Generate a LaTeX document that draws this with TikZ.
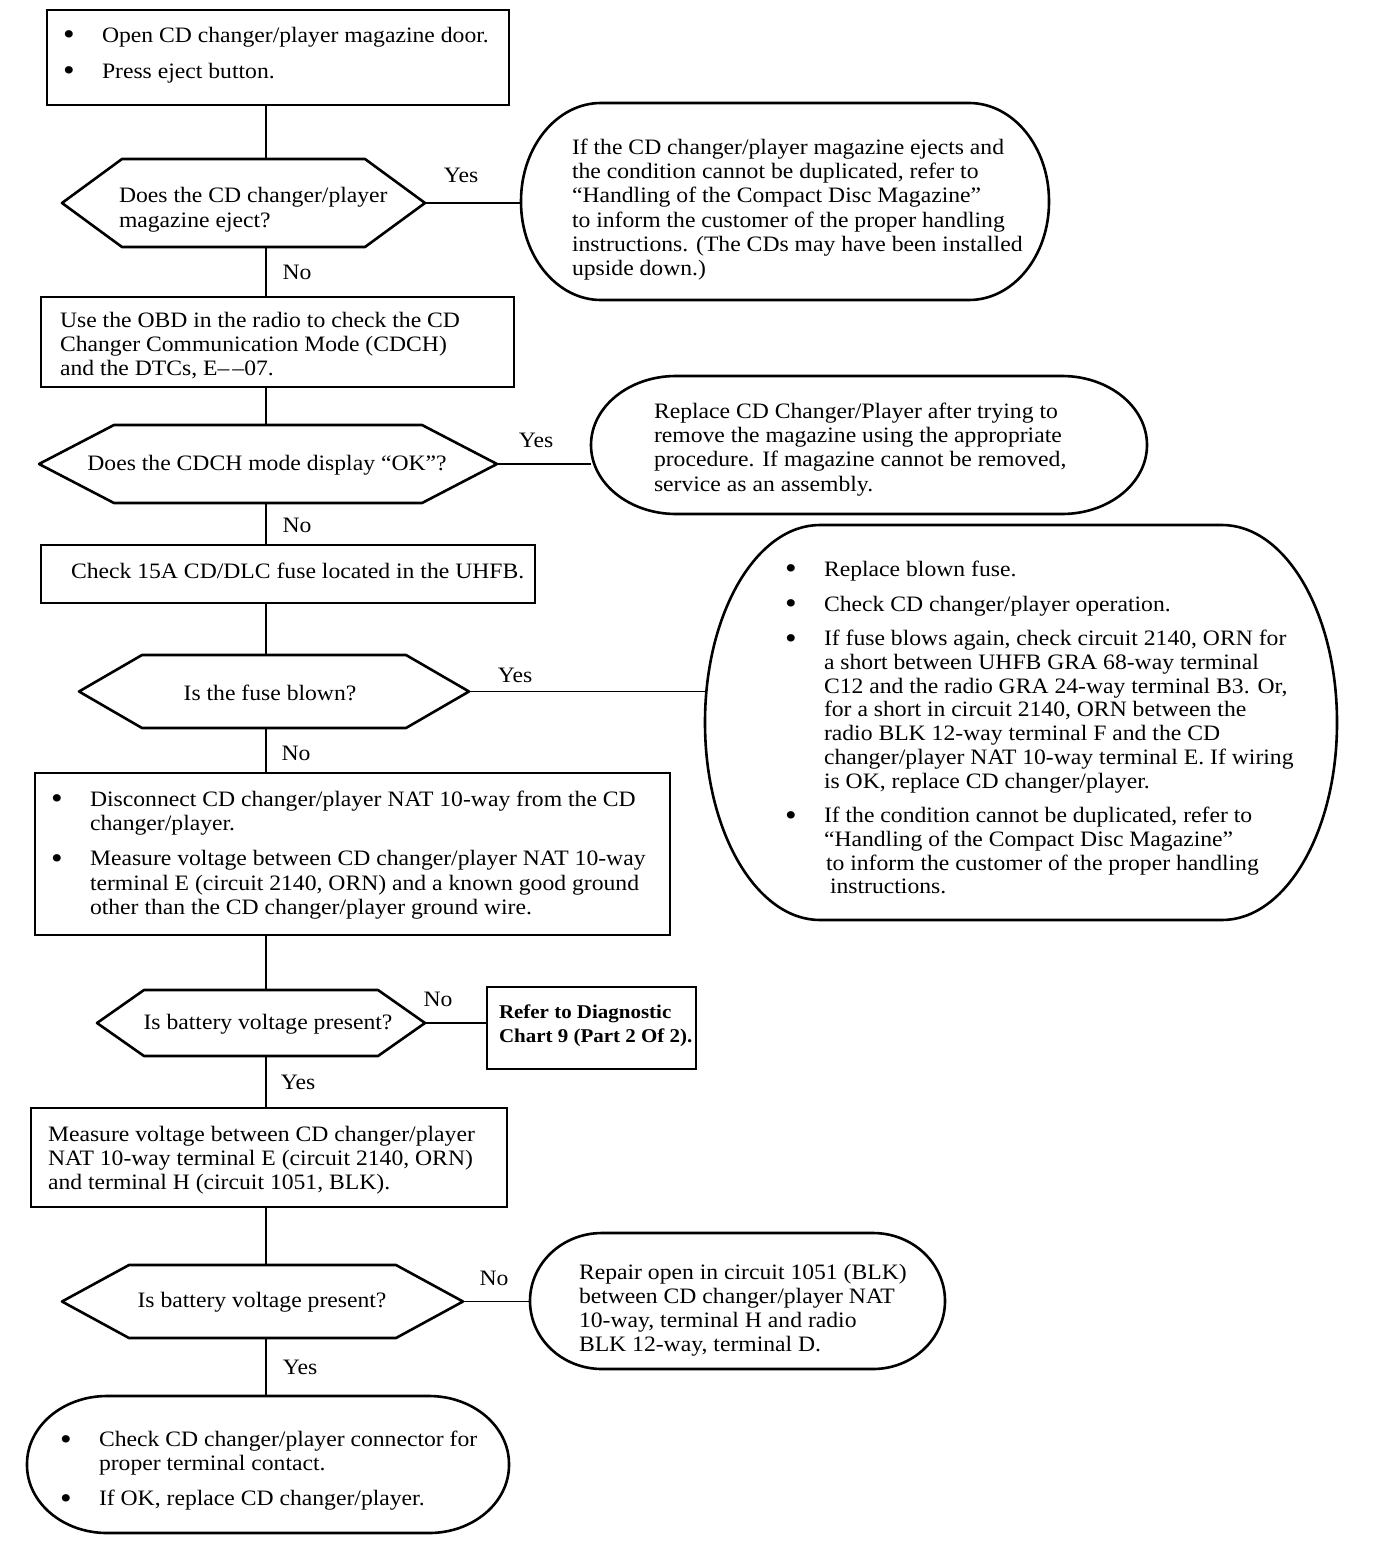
\documentclass[tikz,border=0pt]{standalone}
\usepackage{fontspec}
\usepackage{graphicx}
\setmainfont{Liberation Serif}[FakeStretch=1.075]
\usetikzlibrary{calc}
\newcommand\bul[1][39pt]{\makebox[#1][l]{\raisebox{-2.5pt}{\scalebox{1.4}{\textbullet}}}}
\newcommand\ind[1][39pt]{\hspace*{#1}}
% pill outline with elliptical corners: name, rx, ry
\newcommand\pillshape[3]{%
  \draw[shapeline] let \p1=(#1.north west), \p2=(#1.south east) in
    (\x1+#2pt,\y1) -- (\x2-#2pt,\y1)
    .. controls (\x2-0.4477*#2pt,\y1) and (\x2,\y1-0.4477*#3pt) .. (\x2,\y1-#3pt)
    -- (\x2,\y2+#3pt)
    .. controls (\x2,\y2+0.4477*#3pt) and (\x2-0.4477*#2pt,\y2) .. (\x2-#2pt,\y2)
    -- (\x1+#2pt,\y2)
    .. controls (\x1+0.4477*#2pt,\y2) and (\x1,\y2+0.4477*#3pt) .. (\x1,\y2+#3pt)
    -- (\x1,\y1-#3pt)
    .. controls (\x1,\y1-0.4477*#3pt) and (\x1+0.4477*#2pt,\y1) .. (\x1+#2pt,\y1)
    -- cycle;}
% hexagon outline: name, inset
\newcommand\hexshape[2]{%
  \draw[shapeline] (#1.west) -- ([xshift=#2pt]#1.north west) -- ([xshift=-#2pt]#1.north east)
    -- (#1.east) -- ([xshift=-#2pt]#1.south east) -- ([xshift=#2pt]#1.south west) -- cycle;}
\begin{document}
\begin{tikzpicture}[x=1pt,y=-1pt,
  frame/.style={draw=none,inner sep=0pt,outer sep=0pt},
  box/.style={draw,line width=2.6pt,inner sep=0pt,outer sep=0pt},
  shapeline/.style={line width=2.6pt,line join=round},
  conn/.style={line width=1.7pt},
  txt/.style={inner sep=0pt,outer sep=0pt,align=left,anchor=north west,font=\fontsize{22}{24.2}\selectfont},
  ctxt/.style={inner sep=0pt,outer sep=0pt,font=\fontsize{22}{24.2}\selectfont},
  lbl/.style={inner sep=0pt,outer sep=0pt,font=\fontsize{22}{24}\selectfont}]
\useasboundingbox[fill=white] (0,0) rectangle (1392,1554);
\coordinate (trunk) at (266,0);

% shapes
\node[box,minimum width=462pt,minimum height=95pt] (box1) at (278,57.5) {};
\node[frame,minimum width=363pt,minimum height=88pt] (hex1) at (243.5,203) {};
\node[frame,minimum width=528pt,minimum height=197pt] (pill1) at (785,201.5) {};
\node[box,minimum width=473pt,minimum height=90pt] (box2) at (277.5,342) {};
\node[frame,minimum width=458pt,minimum height=78pt] (hex2) at (268,464) {};
\node[frame,minimum width=556pt,minimum height=138pt] (pill2) at (869,445) {};
\node[box,minimum width=494pt,minimum height=58pt] (box3) at (288,574) {};
\node[frame,minimum width=390pt,minimum height=73pt] (hex3) at (274,691.5) {};
\node[frame,minimum width=632pt,minimum height=395pt] (pill3) at (1021,722.5) {};
\node[box,minimum width=635pt,minimum height=162pt] (box4) at (352.5,854) {};
\node[frame,minimum width=328pt,minimum height=66pt] (hex4) at (261,1023) {};
\node[box,minimum width=209pt,minimum height=82pt] (box5) at (591.5,1028) {};
\node[box,minimum width=476pt,minimum height=99pt] (box6) at (269,1157.5) {};
\node[frame,minimum width=401pt,minimum height=73pt] (hex5) at (262.5,1301.5) {};
\node[frame,minimum width=415pt,minimum height=136pt] (pill4) at (737.5,1301) {};
\node[frame,minimum width=482pt,minimum height=137pt] (pill5) at (268,1464.5) {};

\hexshape{hex1}{60}
\hexshape{hex2}{75}
\hexshape{hex3}{63}
\hexshape{hex4}{47}
\hexshape{hex5}{67}
\pillshape{pill1}{80}{98}
\pillshape{pill2}{85}{69}
\pillshape{pill3}{115}{197}
\pillshape{pill4}{72}{68}
\pillshape{pill5}{80}{68}

% texts
\node[txt] (t1) at (63,27) {\bul Open CD changer/player magazine door.\\[12pt]\bul Press eject button.};
\node[txt,font=\fontsize{22}{25}\selectfont] (th1) at (119,187) {Does the CD changer/player\\magazine eject?};
\node[txt] (tp1) at (572,139) {If the CD changer/player magazine ejects and\\the condition cannot be duplicated, refer to\\“Handling of the Compact Disc Magazine”\\to inform the customer of the proper handling\\instructions. (The CDs may have been installed\\upside down.)};
\node[txt] (t2) at (60,312) {Use the OBD in the radio to check the CD\\Changer Communication Mode (CDCH)\\and the DTCs, E–\hspace{3pt}–07.};
\node[ctxt] (th2) at (267,465) {Does the CDCH mode display “OK”?};
\node[txt] (tp2) at (654,403) {Replace CD Changer/Player after trying to\\remove the magazine using the appropriate\\procedure. If magazine cannot be removed,\\service as an assembly.};
\node[txt] (t3) at (71,563) {Check 15A CD/DLC fuse located in the UHFB.};
\node[ctxt] (th3) at (270,693) {Is the fuse blown?};
\node[txt,font=\fontsize{22}{23.7}\selectfont] (tp3) at (785,561) {\bul Replace blown fuse.\\[11pt]
\bul Check CD changer/player operation.\\[11pt]
\bul If fuse blows again, check circuit 2140, ORN for\\
\ind a short between UHFB GRA 68-way terminal\\
\ind C12 and the radio GRA 24-way terminal B3. Or,\\
\ind for a short in circuit 2140, ORN between the\\
\ind radio BLK 12-way terminal F and the CD\\
\ind changer/player NAT 10-way terminal E. If wiring\\
\ind is OK, replace CD changer/player.\\[11pt]
\bul If the condition cannot be duplicated, refer to\\
\ind “Handling of the Compact Disc Magazine”\\
\ind[41pt]to inform the customer of the proper handling\\
\ind[45pt]instructions.};
\node[txt] (t4) at (51,791) {\bul Disconnect CD changer/player NAT 10-way from the CD\\
\ind changer/player.\\[11pt]
\bul Measure voltage between CD changer/player NAT 10-way\\
\ind terminal E (circuit 2140, ORN) and a known good ground\\
\ind other than the CD changer/player ground wire.};
\node[ctxt] (th4) at (268,1024) {Is battery voltage present?};
\node[txt,font=\bfseries\fontsize{19.5}{24}\selectfont] (t5) at (499,1005) {Refer to Diagnostic\\Chart 9 (Part 2 Of 2).};
\node[txt] (t6) at (48,1126) {Measure voltage between CD changer/player\\NAT 10-way terminal E (circuit 2140, ORN)\\and terminal H (circuit 1051, BLK).};
\node[ctxt] (th5) at (262,1302) {Is battery voltage present?};
\node[txt] (tp4) at (579,1264) {Repair open in circuit 1051 (BLK)\\between CD changer/player NAT\\10-way, terminal H and radio\\BLK 12-way, terminal D.};
\node[txt] (tp5) at (60,1431) {\bul Check CD changer/player connector for\\\ind proper terminal contact.\\[11pt]\bul If OK, replace CD changer/player.};

% labels
\node[lbl] (l1) at (461,175) {Yes};
\node[lbl] (l2) at (297,272) {No};
\node[lbl] (l3) at (536,440) {Yes};
\node[lbl] (l4) at (297,525) {No};
\node[lbl] (l5) at (515,675) {Yes};
\node[lbl] (l6) at (296,753) {No};
\node[lbl] (l7) at (438,999) {No};
\node[lbl] (l8) at (298,1082) {Yes};
\node[lbl] (l9) at (494,1278) {No};
\node[lbl] (l10) at (300,1367) {Yes};

% connectors
\draw[conn] (box1.south -| trunk) -- (hex1.north -| trunk);
\draw[conn] (hex1.east) -- (pill1.west |- hex1.east);
\draw[conn] (hex1.south -| trunk) -- (box2.north -| trunk);
\draw[conn] (box2.south -| trunk) -- (hex2.north -| trunk);
\draw[conn] (hex2.east) -- (pill2.west |- hex2.east);
\draw[conn] (hex2.south -| trunk) -- (box3.north -| trunk);
\draw[conn] (box3.south -| trunk) -- (hex3.north -| trunk);
\draw[conn] (hex3.east) -- (pill3.west |- hex3.east);
\draw[conn] (hex3.south -| trunk) -- (box4.north -| trunk);
\draw[conn] (box4.south -| trunk) -- (hex4.north -| trunk);
\draw[conn] (hex4.east) -- (box5.west |- hex4.east);
\draw[conn] (hex4.south -| trunk) -- (box6.north -| trunk);
\draw[conn] (box6.south -| trunk) -- (hex5.north -| trunk);
\draw[conn] (hex5.east) -- (pill4.west |- hex5.east);
\draw[conn] (hex5.south -| trunk) -- (pill5.north -| trunk);
\end{tikzpicture}
\end{document}
